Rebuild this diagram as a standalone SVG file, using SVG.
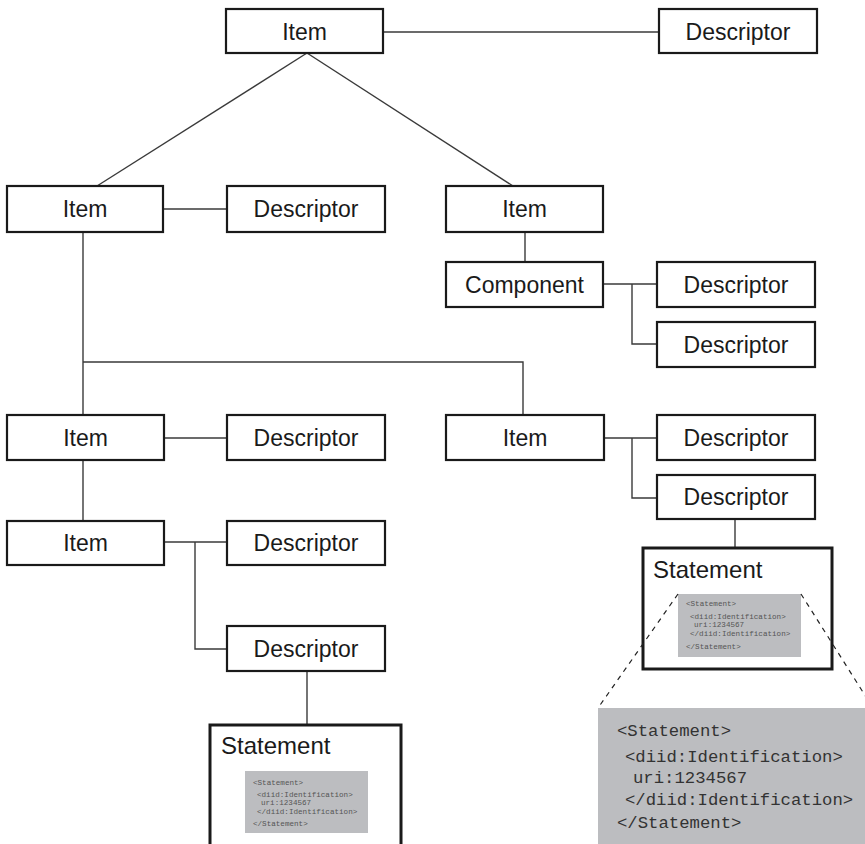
<svg xmlns="http://www.w3.org/2000/svg" width="865" height="844" viewBox="0 0 865 844">
<style>
.box{fill:#fff;stroke:#1a1a1a;stroke-width:2.2}
.stmt{fill:#fff;stroke:#1a1a1a;stroke-width:3}
.lbl{font-family:"Liberation Sans",Arial,sans-serif;font-size:23px;fill:#1a1a1a;text-anchor:middle}
.slbl{font-family:"Liberation Sans",Arial,sans-serif;font-size:24px;fill:#1a1a1a}
.code{fill:#bcbdc0}
.ct{font-family:"Liberation Mono","Courier New",monospace;font-size:7.6px;fill:#555}
.bt{font-family:"Liberation Mono","Courier New",monospace;font-size:17.3px;fill:#333}
.conn line,.conn polyline{fill:none;stroke:#3a3a3a;stroke-width:1.4}
.dash{fill:none;stroke:#222;stroke-width:1.2;stroke-dasharray:5,5}
</style>
<rect width="865" height="844" fill="#fff"/>
<g class="conn" id="connectors">
<line x1="383" y1="32" x2="659" y2="32"/>
<line x1="307" y1="53" x2="97" y2="186"/>
<line x1="307" y1="53" x2="513" y2="186"/>
<line x1="163" y1="209" x2="227" y2="209"/>
<line x1="525" y1="232" x2="525" y2="262"/>
<line x1="603" y1="284" x2="657" y2="284"/>
<polyline points="632,284 632,344 657,344"/>
<line x1="83" y1="232" x2="83" y2="415"/>
<polyline points="83,362 523,362 523,415"/>
<line x1="164" y1="438" x2="227" y2="438"/>
<line x1="604" y1="438" x2="657" y2="438"/>
<polyline points="632,438 632,498 657,498"/>
<line x1="735" y1="519" x2="735" y2="548"/>
<line x1="83" y1="460" x2="83" y2="521"/>
<line x1="164" y1="542" x2="227" y2="542"/>
<polyline points="195,542 195,649 227,649"/>
<line x1="307" y1="671" x2="307" y2="725"/>
</g>
<g id="item-top"><rect class="box" x="226" y="9" width="157" height="44"/><text class="lbl" x="304.5" y="39.5">Item</text></g>
<g id="desc-top"><rect class="box" x="659" y="9" width="158" height="44"/><text class="lbl" x="738" y="39.5">Descriptor</text></g>
<g id="item-l2"><rect class="box" x="7" y="186" width="156" height="46"/><text class="lbl" x="85" y="217">Item</text></g>
<g id="desc-l2"><rect class="box" x="227" y="186" width="158" height="46"/><text class="lbl" x="306" y="217">Descriptor</text></g>
<g id="item-r2"><rect class="box" x="446" y="186" width="157" height="46"/><text class="lbl" x="524.5" y="217">Item</text></g>
<g id="component"><rect class="box" x="446" y="262" width="157" height="45"/><text class="lbl" x="524.5" y="292.5">Component</text></g>
<g id="desc-c1"><rect class="box" x="657" y="262" width="158" height="45"/><text class="lbl" x="736" y="292.5">Descriptor</text></g>
<g id="desc-c2"><rect class="box" x="657" y="322" width="158" height="45"/><text class="lbl" x="736" y="352.5">Descriptor</text></g>
<g id="item-l3"><rect class="box" x="7" y="415" width="157" height="45"/><text class="lbl" x="85.5" y="445.5">Item</text></g>
<g id="desc-l3"><rect class="box" x="227" y="415" width="158" height="45"/><text class="lbl" x="306" y="445.5">Descriptor</text></g>
<g id="item-r3"><rect class="box" x="446" y="415" width="158" height="45"/><text class="lbl" x="525" y="445.5">Item</text></g>
<g id="desc-r3a"><rect class="box" x="657" y="415" width="158" height="45"/><text class="lbl" x="736" y="445.5">Descriptor</text></g>
<g id="desc-r3b"><rect class="box" x="657" y="475" width="158" height="44"/><text class="lbl" x="736" y="505">Descriptor</text></g>
<g id="item-l4"><rect class="box" x="7" y="521" width="157" height="44"/><text class="lbl" x="85.5" y="551">Item</text></g>
<g id="desc-l4a"><rect class="box" x="227" y="521" width="158" height="44"/><text class="lbl" x="306" y="551">Descriptor</text></g>
<g id="desc-l4b"><rect class="box" x="227" y="626" width="158" height="45"/><text class="lbl" x="306" y="656.5">Descriptor</text></g>
<g id="statement-right">
<rect class="stmt" x="643" y="548" width="189" height="121"/>
<text class="slbl" x="653" y="578">Statement</text>
<rect class="code" x="678" y="594" width="123" height="63"/>
<text class="ct" x="686" y="606">&lt;Statement&gt;</text>
<text class="ct" x="690" y="619">&lt;diid:Identification&gt;</text>
<text class="ct" x="694" y="627">uri:1234567</text>
<text class="ct" x="690" y="636">&lt;/diid:Identification&gt;</text>
<text class="ct" x="686" y="649">&lt;/Statement&gt;</text>
</g>
<g id="zoom-lines">
<line class="dash" x1="678" y1="594" x2="598" y2="708"/>
<line class="dash" x1="801" y1="594" x2="873" y2="708"/>
</g>
<g id="statement-zoom">
<rect class="code" x="598" y="708" width="275" height="140"/>
<text class="bt" x="617" y="736">&lt;Statement&gt;</text>
<text class="bt" x="625" y="762">&lt;diid:Identification&gt;</text>
<text class="bt" x="633" y="783">uri:1234567</text>
<text class="bt" x="625" y="805">&lt;/diid:Identification&gt;</text>
<text class="bt" x="617" y="828">&lt;/Statement&gt;</text>
</g>
<g id="statement-left">
<rect class="stmt" x="210" y="725" width="191" height="125"/>
<text class="slbl" x="221" y="754">Statement</text>
<rect class="code" x="245" y="771" width="123" height="62"/>
<text class="ct" x="253" y="785">&lt;Statement&gt;</text>
<text class="ct" x="257" y="797">&lt;diid:Identification&gt;</text>
<text class="ct" x="261" y="805">uri:1234567</text>
<text class="ct" x="257" y="814">&lt;/diid:Identification&gt;</text>
<text class="ct" x="253" y="826">&lt;/Statement&gt;</text>
</g>
</svg>
